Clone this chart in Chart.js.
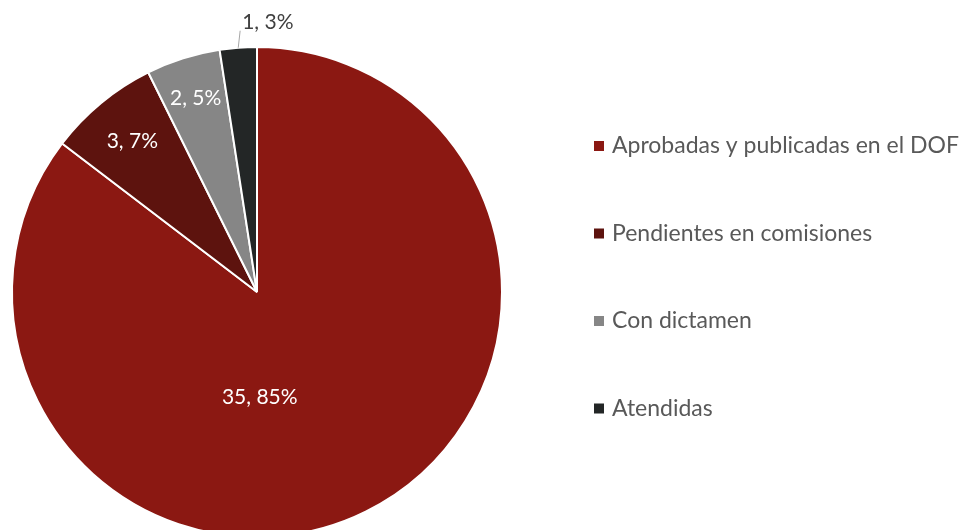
<!DOCTYPE html>
<html>
<head>
<meta charset="utf-8">
<script src="https://cdn.jsdelivr.net/npm/chart.js@4.4.0/dist/chart.umd.min.js"></script>
<style>
  html, body { margin: 0; padding: 0; background: #fff; overflow: hidden; }
  #wrap { width: 959px; height: 530px; overflow: hidden; }
</style>
</head>
<body>
<div id="wrap"><canvas id="pieChart" width="959" height="560"></canvas></div>
<script>
// datos del grafico
var categorias = ['Aprobadas y publicadas en el DOF', 'Pendientes en comisiones', 'Con dictamen', 'Atendidas'];
var valores = [35, 3, 2, 1];
var porcentajes = ['85%', '7%', '5%', '3%'];
var colores = ['#8b1812', '#5d130e', '#868686', '#232626'];

var FONT = 'Lato, "Open Sans", sans-serif';

// etiquetas de datos sobre cada porcion
var labelPlugin = {
  id: 'sliceLabels',
  afterDatasetsDraw: function(chart) {
    var ctx = chart.ctx;
    var meta = chart.getDatasetMeta(0);
    // [factor de radio, angulo forzado (grados) o null, color]
    var pos = [[0.43, 178.5, '#ffffff'], [0.80, null, '#ffffff'], [0.83, null, '#ffffff'], [1.10, 2.3, '#404040']];
    ctx.save();
    ctx.font = '21px ' + FONT;
    ctx.textAlign = 'center';
    ctx.textBaseline = 'middle';
    meta.data.forEach(function(arc, i) {
      var p = arc.getProps(['x', 'y', 'startAngle', 'endAngle', 'outerRadius']);
      var mid = (p.startAngle + p.endAngle) / 2;
      var ang = pos[i][1] !== null ? (pos[i][1] - 90) * Math.PI / 180 : mid;
      var r = p.outerRadius * pos[i][0];
      var tx = p.x + Math.cos(ang) * r;
      var ty = p.y + Math.sin(ang) * r;
      var txt = valores[i] + ', ' + porcentajes[i];
      if (pos[i][0] > 1) {
        var w = ctx.measureText(txt).width;
        ctx.strokeStyle = '#a6a6a6';
        ctx.lineWidth = 1;
        ctx.beginPath();
        ctx.moveTo(p.x + Math.cos(mid) * p.outerRadius, p.y + Math.sin(mid) * p.outerRadius);
        ctx.lineTo(tx - w / 2 - 2, ty + 8);
        ctx.stroke();
      }
      ctx.fillStyle = pos[i][2];
      ctx.fillText(txt, tx, ty);
    });
    ctx.restore();
  }
};

// leyenda a la derecha
var legendPlugin = {
  id: 'sideLegend',
  afterDraw: function(chart) {
    var ctx = chart.ctx;
    var x0 = 594, y0 = 146, step = 87.5;
    ctx.save();
    ctx.font = '23px ' + FONT;
    ctx.textBaseline = 'middle';
    ctx.textAlign = 'left';
    categorias.forEach(function(c, i) {
      var y = y0 + i * step;
      ctx.fillStyle = colores[i];
      ctx.fillRect(x0, y - 5, 10, 10);
      ctx.fillStyle = '#595959';
      ctx.fillText(c, x0 + 18, y);
    });
    ctx.restore();
  }
};

var pie = new Chart(document.getElementById('pieChart').getContext('2d'), {
  type: 'pie',
  data: {
    labels: categorias,
    datasets: [{
      data: valores,
      backgroundColor: colores,
      borderColor: '#ffffff',
      borderWidth: 2,
    }],
  },
  options: {
    responsive: false,
    animation: false,
    layout: { padding: { left: 11, right: 456, top: 46, bottom: 22 } },
    plugins: {
      legend: { display: false },
      tooltip: { enabled: false },
    },
  },
  plugins: [labelPlugin, legendPlugin],
});
</script>
</body>
</html>
